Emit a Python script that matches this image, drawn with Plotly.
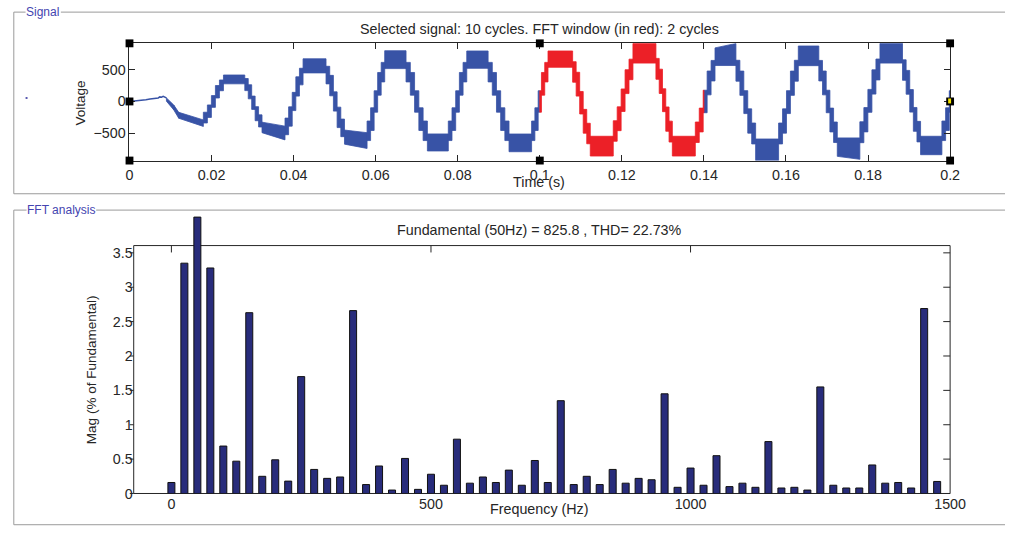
import plotly.graph_objects as go

W, H = 1022, 534

# ---------------- FFT spectrum (harmonic bins, 25 Hz resolution) ----------------
freq_hz = [0, 25, 50, 75, 100, 125, 150, 175, 200, 225, 250, 275, 300, 325, 350,
           375, 400, 425, 450, 475, 500, 525, 550, 575, 600, 625, 650, 675, 700, 725,
           750, 775, 800, 825, 850, 875, 900, 925, 950, 975, 1000, 1025, 1050, 1075, 1100,
           1125, 1150, 1175, 1200, 1225, 1250, 1275, 1300, 1325, 1350, 1375, 1400, 1425, 1450, 1475]
mag_pct = [0.16, 3.35, 4.02, 3.28, 0.69, 0.47, 2.63, 0.25, 0.49, 0.18, 1.70, 0.35, 0.22, 0.24, 2.66,
           0.13, 0.40, 0.05, 0.51, 0.06, 0.28, 0.12, 0.79, 0.15, 0.24, 0.16, 0.34, 0.12, 0.48, 0.16,
           1.35, 0.13, 0.25, 0.13, 0.35, 0.15, 0.22, 0.20, 1.45, 0.09, 0.37, 0.12, 0.55, 0.10, 0.15,
           0.09, 0.755, 0.08, 0.09, 0.05, 1.55, 0.12, 0.08, 0.08, 0.415, 0.15, 0.16, 0.08, 2.69, 0.175]
fft_ticks = [0, 500, 1000, 1500]
mag_ticks = [0, 0.5, 1, 1.5, 2, 2.5, 3, 3.5]

# ---------------- Time signal ----------------
# start-up, before the converter switches in (thin trace)
start_t = [0, 0.001, 0.002, 0.003, 0.004, 0.005, 0.006, 0.0066, 0.007, 0.0074, 0.0078, 0.0082, 0.0086, 0.009]
start_v = [0, 4, 10, 18, 28, 38, 50, 60, 55, 72, 68, 82, 70, 57]
# first descent, band [lo, hi] at start / end
descent_t0 = [0.0090, 0.0108]
descent_t1 = [0.0108, 0.0120]
descent_lo0 = [5, -135]
descent_hi0 = [57, -57]
descent_lo1 = [-135, -266]
descent_hi1 = [-57, -172]

# plateaus / troughs of each half cycle: time span and band (low, high) at start and end
flat_t0 = [0.0120, 0.0229, 0.0323, 0.0423, 0.0524, 0.0622, 0.0726, 0.0822, 0.0925, 0.1020,
           0.1123, 0.1227, 0.1323, 0.1427, 0.1526, 0.1630, 0.1725, 0.1829, 0.1928]
flat_t1 = [0.0180, 0.0281, 0.0379, 0.0479, 0.0579, 0.0674, 0.0777, 0.0874, 0.0980, 0.1080,
           0.1179, 0.1283, 0.1379, 0.1478, 0.1582, 0.1680, 0.1780, 0.1884, 0.1980]
flat_lo0 = [-266, 280, -495, 453, -677, 521, -785, 526, -797, 542, -865, 609, -865, 570, -937, 568, -870, 609, -844]
flat_hi0 = [-172, 420, -328, 677, -453, 805, -515, 801, -516, 801, -552, 922, -552, 850, -595, 880, -578, 922, -552]
flat_lo1 = [-396, 280, -609, 453, -745, 521, -785, 526, -797, 542, -865, 609, -865, 570, -937, 568, -917, 609, -844]
flat_hi1 = [-292, 420, -391, 677, -495, 805, -515, 801, -516, 801, -552, 922, -552, 920, -595, 880, -578, 922, -552]

# switching bands along a falling edge (steady state), volts
edge_lo = [310, 100, -170, -460, -620]
edge_hi = [620, 460, 170, -100, -310]
# per-edge gain and offset of that staircase (edges between consecutive half cycles, last one runs past 0.2 s)
edge_gain = [0.55, 0.62, 0.85, 0.9, 1.0, 1.0, 1.0, 1.0, 1.0, 1.05, 1.05, 1.07, 1.05, 1.07, 1.07, 1.05, 1.07, 1.05, 1.0]
edge_offset = [0, -20, 0, 0, 0, 0, 0, 0, 0, -20, 20, 20, 0, -10, -10, 0, 10, 10, 0]
last_edge_end = 0.2025

t_end = 0.2
fft_window = (0.1, 0.14)

sig_ticks = [0, 0.02, 0.04, 0.06, 0.08, 0.1, 0.12, 0.14, 0.16, 0.18, 0.2]
sig_ticktext = ["0", "0.02", "0.04", "0.06", "0.08", "0.1", "0.12", "0.14", "0.16", "0.18", "0.2"]
volt_ticks = [-500, 0, 500]
volt_range = [-937, 922]

BLUE = "#3853a6"
RED = "#ec2027"
BAR = "#282c7b"
INK = "#262626"
FONT = "Liberation Sans, Arial, sans-serif"

# ---------- build band segments ----------
segments = []
for i in range(len(descent_t0)):
    segments.append((descent_t0[i], descent_t1[i], descent_lo0[i], descent_hi0[i], descent_lo1[i], descent_hi1[i]))
for i in range(len(flat_t0)):
    segments.append((flat_t0[i], flat_t1[i], flat_lo0[i], flat_hi0[i], flat_lo1[i], flat_hi1[i]))
    e_start = flat_t1[i]
    e_stop = flat_t0[i + 1] if i + 1 < len(flat_t0) else last_edge_end
    falling = flat_hi0[i] > 0
    pairs = list(zip(edge_lo, edge_hi))
    if not falling:
        pairs = pairs[::-1]
    g, off = edge_gain[i], edge_offset[i]
    n = len(pairs)
    dt = (e_stop - e_start) / n
    for k, (lo, hi) in enumerate(pairs):
        a, b = e_start + k * dt, e_start + (k + 1) * dt
        lo_v, hi_v = g * lo + off, g * hi + off
        segments.append((a, b, lo_v, hi_v, lo_v, hi_v))


def split(seg, cuts):
    t0, t1, lo0, hi0, lo1, hi1 = seg
    pts = [t0] + [c for c in cuts if t0 < c < t1] + [t1]
    out = []
    for a, b in zip(pts[:-1], pts[1:]):
        fa, fb = (a - t0) / (t1 - t0), (b - t0) / (t1 - t0)
        out.append((a, b, lo0 + (lo1 - lo0) * fa, hi0 + (hi1 - hi0) * fa,
                    lo0 + (lo1 - lo0) * fb, hi0 + (hi1 - hi0) * fb))
    return out


paths = {"blue": ([], []), "red": ([], [])}
for seg in segments:
    for p in split(seg, [fft_window[0], fft_window[1], t_end]):
        a, b, lo0, hi0, lo1, hi1 = p
        if a >= t_end - 1e-12:
            continue
        mid = 0.5 * (a + b)
        key = "red" if fft_window[0] <= mid <= fft_window[1] else "blue"
        xs, ys = paths[key]
        xs += [a, b, b, a, a, None]
        ys += [lo0, lo1, hi1, hi0, lo0, None]

fig = go.Figure()
fig.add_trace(go.Scatter(x=start_t, y=start_v, mode="lines", line=dict(color=BLUE, width=1.6),
                         xaxis="x", yaxis="y", hoverinfo="skip", showlegend=False))
for key, col in (("blue", BLUE), ("red", RED)):
    xs, ys = paths[key]
    fig.add_trace(go.Scatter(x=xs, y=ys, mode="lines", fill="toself", fillcolor=col,
                             line=dict(color=col, width=0.8), xaxis="x", yaxis="y",
                             hoverinfo="skip", showlegend=False))

fig.add_trace(go.Bar(x=freq_hz, y=mag_pct, width=13.5, marker=dict(color=BAR, line=dict(color="#111111", width=1)),
                     xaxis="x2", yaxis="y2", showlegend=False))

# ---------- geometry (pixels) ----------
S_L, S_R, S_T, S_B = 128, 965, 44, 163          # signal axes box
F_L, F_R, F_B = 132.3, 965, 501                  # spectrum axes box
F_XMIN, F_XMAX = -72.6, 1500
F_FRAME_TOP = 3.606
F_YMAX = 4.06
f_py_per_unit = 69.8
F_TOP_AREA = F_B - F_YMAX * f_py_per_unit
F_T = F_B - F_FRAME_TOP * f_py_per_unit


def px(x):
    return x / W


def py(y):
    return 1 - y / H


def fx(v):
    return F_L + (v - F_XMIN) * (F_R - F_L) / (F_XMAX - F_XMIN)


def fy(v):
    return F_B - v * f_py_per_unit


axis_font = dict(family=FONT, size=14.3, color=INK)
fig.update_layout(
    width=W, height=H, margin=dict(l=0, r=0, t=0, b=0), autosize=False,
    paper_bgcolor="white", plot_bgcolor="white", showlegend=False, dragmode=False,
    font=dict(family=FONT, color=INK),
    xaxis=dict(domain=[px(S_L), px(S_R)], range=[0, t_end], anchor="y", fixedrange=True,
               tickvals=sig_ticks, ticktext=sig_ticktext, ticks="inside", ticklen=6,
               tickcolor=INK, showline=True, linecolor=INK, linewidth=1, mirror="ticks",
               showgrid=False, zeroline=False, tickfont=axis_font, ticklabelstandoff=1),
    yaxis=dict(domain=[py(S_B), py(S_T)], range=volt_range, anchor="x", fixedrange=True,
               tickvals=volt_ticks, ticks="inside", ticklen=6, tickcolor=INK,
               showline=True, linecolor=INK, linewidth=1, mirror="ticks",
               showgrid=False, zeroline=False, tickfont=axis_font),
    xaxis2=dict(domain=[px(F_L), px(F_R)], range=[F_XMIN, F_XMAX], anchor="y2", fixedrange=True,
                tickvals=fft_ticks, ticks="", showline=False, showgrid=False, zeroline=False,
                tickfont=axis_font),
    yaxis2=dict(domain=[py(F_B), py(F_TOP_AREA)], range=[0, F_YMAX], anchor="x2", fixedrange=True,
                tickvals=mag_ticks, ticktext=[f"{v:g}" for v in mag_ticks], ticks="",
                showline=False, showgrid=False, zeroline=False, tickfont=axis_font),
    bargap=0,
)

shapes = []
grey = "#9a9a9a"


def hline(x0, x1, y, color=grey, w=1):
    shapes.append(dict(type="line", xref="paper", yref="paper", x0=px(x0), x1=px(x1),
                       y0=py(y), y1=py(y), line=dict(color=color, width=w), layer="below"))


def vline(x, y0, y1, color=grey, w=1):
    shapes.append(dict(type="line", xref="paper", yref="paper", x0=px(x), x1=px(x),
                       y0=py(y0), y1=py(y1), line=dict(color=color, width=w), layer="below"))


# group panels
hline(10, 22, 12.3); hline(58, W - 1, 12.3); vline(10, 12.3, 196.7); hline(10, W - 1, 196.7)
hline(10, 23, 213.3); hline(94, W - 1, 213.3); vline(10, 213.3, 532.7); hline(10, W - 1, 532.7)

# spectrum frame and ticks
for (x0, y0, x1, y1) in [(F_L, F_B, F_R, F_B), (F_L, F_T, F_R, F_T), (F_L, F_T, F_L, F_B), (F_R, F_T, F_R, F_B)]:
    shapes.append(dict(type="line", xref="paper", yref="paper", x0=px(x0), x1=px(x1), y0=py(y0), y1=py(y1),
                       line=dict(color=INK, width=1), layer="below"))
for v in mag_ticks:
    yy = fy(v)
    shapes.append(dict(type="line", xref="paper", yref="paper", x0=px(F_L - 4), x1=px(F_L), y0=py(yy), y1=py(yy),
                       line=dict(color=INK, width=1)))
    shapes.append(dict(type="line", xref="paper", yref="paper", x0=px(F_R - 7), x1=px(F_R), y0=py(yy), y1=py(yy),
                       line=dict(color=INK, width=1)))
for v in fft_ticks[:-1]:
    xx = fx(v)
    shapes.append(dict(type="line", xref="paper", yref="paper", x0=px(xx), x1=px(xx), y0=py(F_T), y1=py(F_T + 7),
                       line=dict(color=INK, width=1), layer="below"))

# selection handles on the signal axes
handles = [(S_L, S_T), (S_L, 103), (S_L, S_B), (546.5, S_T), (546.5, S_B), (S_R, S_T), (S_R, 103), (S_R, S_B)]
for (hx, hy) in handles:
    shapes.append(dict(type="rect", xref="paper", yref="paper", x0=px(hx - 4), x1=px(hx + 4),
                       y0=py(hy + 4), y1=py(hy - 4), fillcolor="black", line=dict(width=0)))
shapes.append(dict(type="rect", xref="paper", yref="paper", x0=px(S_R - 2), x1=px(S_R + 1),
                   y0=py(105), y1=py(100), fillcolor="#f5e400", line=dict(width=0)))
shapes.append(dict(type="rect", xref="paper", yref="paper", x0=px(22), x1=px(24),
                   y0=py(100.5), y1=py(98.5), fillcolor="#5a5ab0", line=dict(width=0)))
fig.update_layout(shapes=shapes)

ann = []


def text(x, y, s, size=14.3, color=INK, angle=0, xanchor="center"):
    ann.append(dict(x=px(x), y=py(y), xref="paper", yref="paper", text=s, showarrow=False,
                    font=dict(family=FONT, size=size, color=color), textangle=angle,
                    xanchor=xanchor, yanchor="middle", borderpad=0))


text(546.5, 29, "Selected signal: 10 cycles. FFT window (in red): 2 cycles")
text(77.5, 104, "Voltage", size=13.5, angle=-90)
text(546, 185, "Time (s)")
text(546, 234, "Fundamental (50Hz) = 825.8 , THD= 22.73%")
text(89.5, 375, "Mag (% of Fundamental)", size=13.5, angle=-90)
text(546, 516.5, "Frequency (Hz)")
text(21, 12, "Signal", size=12, color="#4444b0", xanchor="left")
text(22, 213, "FFT analysis", size=12, color="#4444b0", xanchor="left")
fig.update_layout(annotations=ann)

fig.write_html("out.html", config={"staticPlot": True, "displayModeBar": False})
